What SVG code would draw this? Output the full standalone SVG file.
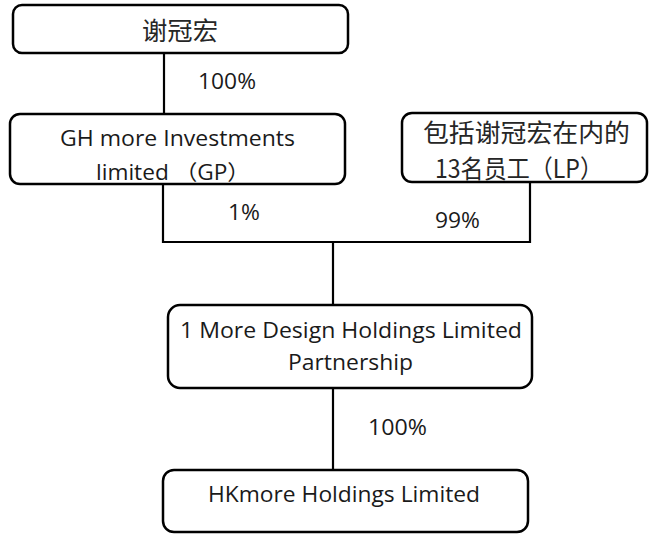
<svg xmlns="http://www.w3.org/2000/svg" width="649" height="535" viewBox="0 0 649 535">
<style>
.box{fill:#fff;stroke:#000;stroke-width:2.5}
.ln{fill:none;stroke:#000;stroke-width:2.2}
.t{font-family:"Open Sans","Liberation Sans","Noto Sans CJK SC",sans-serif;font-size:21px;fill:#1a1a1a}
.c{font-family:"Noto Sans CJK SC","Noto Sans CJK TC",sans-serif;font-size:25px;fill:#262626}
</style>
<rect width="649" height="535" fill="#fff"/>
<g id="connectors">
<path class="ln" d="M164 53V113"/>
<path class="ln" d="M163 184V242H530V182"/>
<path class="ln" d="M333 242V305"/>
<path class="ln" d="M333 388V469"/>
<text class="t" x="198" y="89" textLength="58" lengthAdjust="spacingAndGlyphs">100%</text>
<text class="t" x="228" y="220" textLength="32" lengthAdjust="spacingAndGlyphs">1%</text>
<text class="t" x="435" y="228" textLength="45" lengthAdjust="spacingAndGlyphs">99%</text>
<text class="t" x="368" y="435" textLength="59" lengthAdjust="spacingAndGlyphs">100%</text>
</g>
<g id="n1">
<rect class="box" x="13" y="5" width="335" height="48" rx="9"/>
<text class="c" x="142" y="40" textLength="76" lengthAdjust="spacingAndGlyphs">谢冠宏</text>
</g>
<g id="n2">
<rect class="box" x="10" y="114" width="335" height="70" rx="10"/>
<text class="t" x="60" y="146" textLength="235" lengthAdjust="spacingAndGlyphs">GH more Investments</text>
<text class="t" x="96" y="180" textLength="154" lengthAdjust="spacingAndGlyphs">limited （GP）</text>
</g>
<g id="n3">
<rect class="box" x="402" y="113" width="245" height="69" rx="10"/>
<text class="c" x="423" y="142" textLength="207" lengthAdjust="spacingAndGlyphs">包括谢冠宏在内的</text>
<text class="c" x="435" y="178" textLength="168" lengthAdjust="spacingAndGlyphs">13名员工（LP）</text>
</g>
<g id="n4">
<rect class="box" x="168" y="305" width="364" height="83" rx="12"/>
<text class="t" x="180" y="338" textLength="342" lengthAdjust="spacingAndGlyphs">1 More Design Holdings Limited</text>
<text class="t" x="288" y="370" textLength="125" lengthAdjust="spacingAndGlyphs">Partnership</text>
</g>
<g id="n5">
<rect class="box" x="163" y="470" width="365" height="62" rx="11"/>
<text class="t" x="208" y="502" textLength="272" lengthAdjust="spacingAndGlyphs">HKmore Holdings Limited</text>
</g>
</svg>
